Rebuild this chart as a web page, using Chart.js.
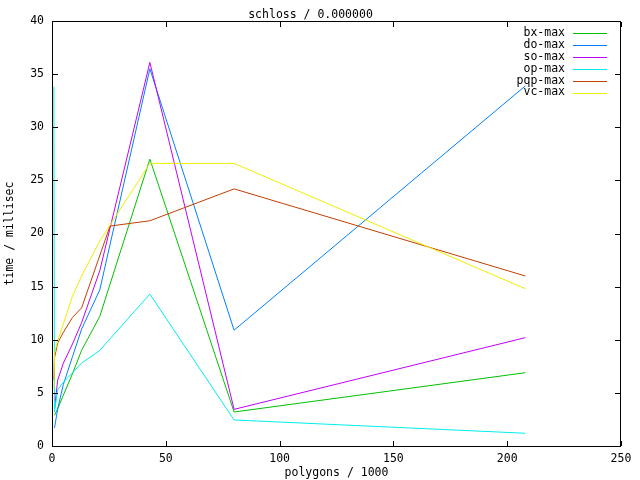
<!DOCTYPE html>
<html>
<head>
<meta charset="utf-8">
<script src="https://cdn.jsdelivr.net/npm/chart.js@4"></script>
<style>
  html, body { margin: 0; padding: 0; background: #fff; }
  #wrap { width: 640px; height: 480px; }
</style>
</head>
<body>
<div id="wrap"><canvas id="c" width="640" height="480"></canvas></div>
<script>
// ---- data ----
const xPolygons = [0.8, 1.1, 2.5, 5, 9, 13, 21, 25.5, 43, 80, 208];
const seriesNames = ["bx-max", "do-max", "so-max", "op-max", "pqp-max", "vc-max"];
const bxMax  = [null, 2.9, 3.5, 4.8, 6.8, 9.0, 12.2, null, 27.0, 3.2, 6.9];
const doMax  = [null, 1.7, 3.5, 5.8, 8.4, 11.0, 14.7, null, 35.5, 10.9, 33.9];
const soMax  = [null, 3.5, 6.2, 7.8, 9.6, 11.6, 16.5, null, 36.1, 3.45, 10.2];
const opMax  = [33.8, 3.2, 5.3, 6.0, null, 7.8, 9.0, null, 14.3, 2.45, 1.2];
const pqpMax = [6.2, 8.3, 9.7, 10.7, 12.1, 13.0, null, 20.7, 21.2, 24.2, 16.0];
const vcMax  = [5.3, 8.7, 9.9, 11.5, 14.1, 16.0, 19.3, null, 26.6, 26.6, 14.8];
const xTicks = [0, 50, 100, 150, 200, 250];
const yTicks = [0, 5, 10, 15, 20, 25, 30, 35, 40];

const seriesValues = [bxMax, doMax, soMax, opMax, pqpMax, vcMax];
const colors = ["#00c000", "#0080ff", "#c000ff", "#00eeee", "#c04000", "#eeee00"];
const FONT = "'DejaVu Sans Mono', 'Liberation Mono', monospace";

function points(vals) {
  const out = [];
  vals.forEach((v, i) => { if (v !== null) out.push({x: xPolygons[i], y: v}); });
  return out;
}

const datasets = seriesValues.map((vals, i) => ({
  label: seriesNames[i],
  data: points(vals),
  borderColor: colors[i],
  backgroundColor: colors[i],
  borderWidth: 1,
  pointRadius: 0,
  tension: 0,
  fill: false,
  order: seriesValues.length - i
}));

const framePlugin = {
  id: 'frame',
  afterDraw(chart) {
    const ctx = chart.ctx;
    const a = chart.chartArea;
    const sx = chart.scales.x, sy = chart.scales.y;
    const L = Math.round(a.left), R = Math.round(a.right) - 1;
    const T = Math.round(a.top), B = Math.round(a.bottom);
    const tl = 5;
    ctx.save();
    ctx.fillStyle = '#000';
    // border
    ctx.fillRect(L, T, R - L + 1, 1);
    ctx.fillRect(L, B, R - L + 1, 1);
    ctx.fillRect(L, T, 1, B - T + 1);
    ctx.fillRect(R, T, 1, B - T + 1);
    // inward ticks on all four sides
    for (let k = 0; k < xTicks.length; k++) {
      const px = Math.round(sx.getPixelForValue(xTicks[k]));
      ctx.fillRect(px, B - tl, 1, tl);
      ctx.fillRect(px, T + 1, 1, tl);
    }
    for (let k = 0; k < yTicks.length; k++) {
      const py = Math.round(sy.getPixelForValue(yTicks[k]));
      ctx.fillRect(L + 1, py, tl, 1);
      ctx.fillRect(R - tl, py, tl, 1);
    }
    // legend: text right-aligned, sample line to the right
    ctx.font = "11.5px " + FONT;
    ctx.textAlign = 'right';
    ctx.textBaseline = 'middle';
    for (let i = 0; i < seriesNames.length; i++) {
      const y = 33 + i * 11.9;
      ctx.fillStyle = '#000';
      ctx.fillText(seriesNames[i], 565, y);
      ctx.fillStyle = colors[i];
      ctx.fillRect(573, Math.round(y), 34, 1);
    }
    ctx.restore();
  }
};

new Chart(document.getElementById('c'), {
  type: 'line',
  data: { datasets },
  options: {
    responsive: false,
    animation: false,
    devicePixelRatio: 1,
    layout: { padding: { top: 0, right: 19, bottom: 0, left: 0 } },
    plugins: {
      legend: { display: false },
      tooltip: { enabled: false },
      title: {
        display: true,
        text: 'schloss / 0.000000',
        color: '#000',
        font: { family: FONT, size: 11.5, weight: 'normal', lineHeight: 1.0 },
        padding: { top: 9.5, bottom: 0 }
      }
    },
    scales: {
      x: {
        type: 'linear',
        min: 0, max: 250,
        afterFit: s => { s.height = 34; },
        afterBuildTicks: s => { s.ticks = xTicks.map(v => ({value: v})); },
        grid: { display: false, drawTicks: false },
        border: { display: false },
        ticks: { color: '#000', padding: 6, maxRotation: 0, autoSkip: false,
                 font: { family: FONT, size: 11.5, lineHeight: 1.2 } },
        title: { display: true, text: 'polygons / 1000', color: '#000',
                 padding: { top: 0, bottom: 0 },
                 font: { family: FONT, size: 11.5, lineHeight: 1.2 } }
      },
      y: {
        type: 'linear',
        min: 0, max: 40,
        afterFit: s => { s.width = 52; },
        afterBuildTicks: s => { s.ticks = yTicks.map(v => ({value: v})); },
        grid: { display: false, drawTicks: false },
        border: { display: false },
        ticks: { color: '#000', padding: 8, autoSkip: false,
                 font: { family: FONT, size: 11.5, lineHeight: 1.2 } },
        title: { display: true, text: 'time / millisec', color: '#000',
                 padding: { top: 3, bottom: 0 },
                 font: { family: FONT, size: 11.5, lineHeight: 1.2 } }
      }
    }
  },
  plugins: [framePlugin]
});
</script>
</body>
</html>
